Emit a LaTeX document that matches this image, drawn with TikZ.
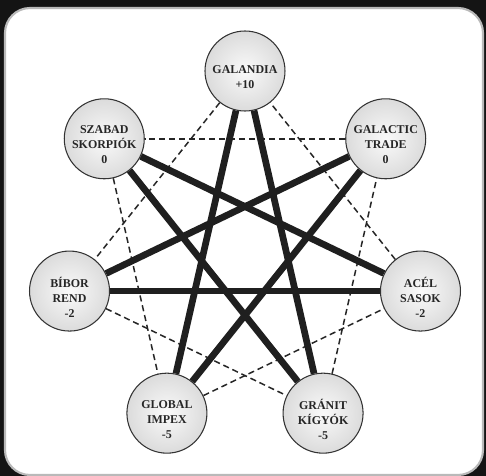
\documentclass[tikz,border=0pt]{standalone}
\usepackage{fontspec}
\setmainfont{Liberation Serif}
\usetikzlibrary{positioning,backgrounds}

\begin{document}
\begin{tikzpicture}[
  club/.style={circle, draw=black!80, line width=0.6pt, minimum size=1.6cm, inner color=gray!4, outer color=gray!28},
  clubtext/.style={align=center, font=\fontsize{6.8}{8.5}\selectfont\bfseries, text=black!85, yshift=-0.12cm},
  enemy/.style={line width=3.8pt, black!88},
  rival/.style={line width=0.85pt, dash pattern=on 3.5pt off 2.2pt, black!85}
]
  \useasboundingbox (-4.9,-4.5) rectangle (4.82,5.02);

  % Dark frame and white panel
  \begin{scope}[on background layer]
    \fill[black!92] (-4.9,-4.5) rectangle (4.82,5.02);
    \draw[fill=white, draw=gray!55, line width=1.2pt, rounded corners=0.5cm] (-4.8,-4.48) rectangle (4.76,4.86);
  \end{scope}

  % Clubs on a heptagon
  \node[club, label={[clubtext]center:GALANDIA\\+10}] (galandia) at (90:3.6) {};
  \node[club, label={[clubtext]center:SZABAD\\SKORPIÓK\\0}] (szabad) at (141.43:3.6) {};
  \node[club, label={[clubtext]center:BÍBOR\\REND\\-2}] (bibor) at (192.86:3.6) {};
  \node[club, label={[clubtext]center:GLOBAL\\IMPEX\\-5}] (global) at (244.29:3.6) {};
  \node[club, label={[clubtext]center:GRÁNIT\\KÍGYÓK\\-5}] (granit) at (295.71:3.6) {};
  \node[club, label={[clubtext]center:ACÉL\\SASOK\\-2}] (acel) at (347.14:3.6) {};
  \node[club, label={[clubtext]center:GALACTIC\\TRADE\\0}] (galactic) at (38.57:3.6) {};

  \begin{scope}[on background layer]
    % Dashed links (every second club)
    \draw[rival] (galandia) -- (bibor);
    \draw[rival] (szabad) -- (global);
    \draw[rival] (bibor) -- (granit);
    \draw[rival] (global) -- (acel);
    \draw[rival] (granit) -- (galactic);
    \draw[rival] (acel) -- (galandia);
    \draw[rival] (galactic) -- (szabad);

    % Thick links (every third club)
    \draw[enemy] (galandia) -- (global);
    \draw[enemy] (galandia) -- (granit);
    \draw[enemy] (szabad) -- (granit);
    \draw[enemy] (szabad) -- (acel);
    \draw[enemy] (bibor) -- (acel);
    \draw[enemy] (bibor) -- (galactic);
    \draw[enemy] (global) -- (galactic);
  \end{scope}
\end{tikzpicture}
\end{document}
